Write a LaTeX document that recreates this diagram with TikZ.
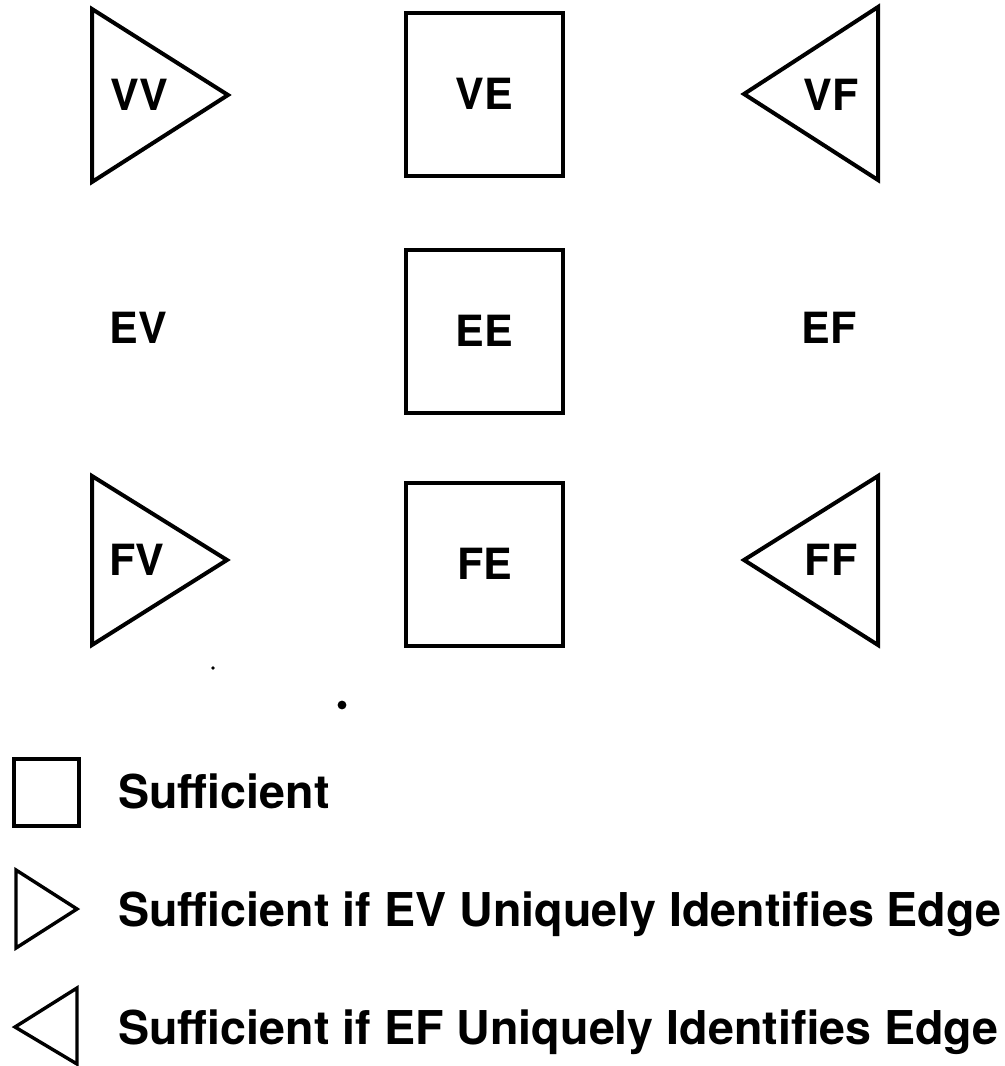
\documentclass[tikz,border=0pt]{standalone}
\usepackage{fontspec}
\setmainfont{TeX Gyre Heros}
\usetikzlibrary{positioning}

\begin{document}
\begin{tikzpicture}[x=0.5pt, y=-0.5pt, node distance=35pt,
  cell/.style={draw, line width=2pt, minimum width=78.5pt,
    minimum height=81.5pt, inner sep=0pt,
    font=\fontsize{21.5}{26}\selectfont\bfseries},
  lbl/.style={inner sep=0pt, font=\fontsize{21.5}{26}\selectfont\bfseries},
  tri/.style={line width=2pt, line join=miter},
  keyshape/.style={line width=1.7pt, line join=miter},
  key/.style={anchor=base west, inner sep=0pt,
    font=\fontsize{23.3}{28}\selectfont\bfseries}]
\useasboundingbox (0,0) rectangle (1005,1066);
% middle column
\node[cell] (ve) at (484.5,94) {VE};
\node[cell, below=35pt of ve] (ee) {EE};
\node[cell, below=33pt of ee] (fe) {FE};
% left column
\draw[tri] (92,9) -- (92,182) -- (228,95) -- cycle;
\node[lbl] (vv) at (139,95) {VV};
\node[lbl] (ev) at (138,328) {EV};
\draw[tri] (92,476) -- (92,645) -- (227,560) -- cycle;
\node[lbl] (fv) at (137,560) {FV};
% right column
\draw[tri] (878,7) -- (878,180) -- (744,94) -- cycle;
\node[lbl] (vf) at (831,95) {VF};
\node[lbl] (ef) at (829,328) {EF};
\draw[tri] (878,476) -- (878,645) -- (744,560) -- cycle;
\node[lbl] (ff) at (831,560) {FF};
% specks
\fill (213,668) circle (0.9pt);
\fill (342,705) circle (2.2pt);
% legend
\draw[keyshape] (14,759) rectangle (79,826);
\node[key] (k1) at (118,808) {Sufficient};
\draw[keyshape] (16,870) -- (16,948) -- (77,909) -- cycle;
\node[key] (k2) at (118,926) {Sufficient if EV Uniquely Identifies Edge};
\draw[keyshape] (77,988) -- (77,1064) -- (15,1027) -- cycle;
\node[key] (k3) at (118,1044) {Sufficient if EF Uniquely Identifies Edge};
\end{tikzpicture}
\end{document}
